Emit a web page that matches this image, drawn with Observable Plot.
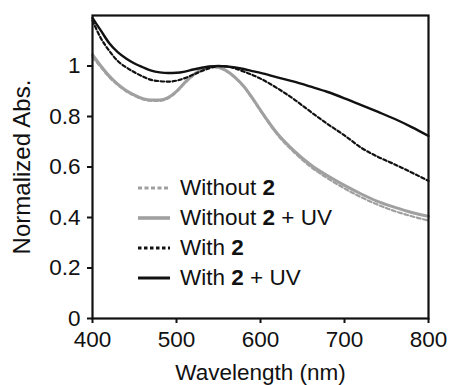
<!DOCTYPE html>
<html>
<head>
<meta charset="utf-8">
<script src="https://cdn.jsdelivr.net/npm/d3@7"></script>
<script src="https://cdn.jsdelivr.net/npm/@observablehq/plot@0.6"></script>
<style>
  html, body { margin: 0; padding: 0; background: #fff; }
  #wrap { position: relative; width: 449px; height: 385px; font-family: "Liberation Sans", Arial, sans-serif; }
  #legend { position: absolute; left: 0; top: 0; }
  .row { position: absolute; left: 138px; height: 30px; display: flex; align-items: center; font-size: 22.5px; color: #111; white-space: nowrap; }
  .row svg { margin-right: 10px; }
</style>
</head>
<body>
<div id="wrap"><div id="legend"></div></div>
<script>
// Wavelength grid (nm)
const wavelengths = [400, 410, 420, 430, 440, 450, 460, 470, 480, 490, 500, 510, 520, 530, 540, 550, 560, 570, 580, 590, 600, 620, 640, 660, 680, 700, 720, 740, 760, 780, 800];

// Normalized absorbance
const without2 =     [1.035, 0.995, 0.955, 0.925, 0.9, 0.882, 0.868, 0.862, 0.862, 0.872, 0.897, 0.932, 0.963, 0.985, 0.997, 0.993, 0.978, 0.952, 0.918, 0.872, 0.822, 0.728, 0.658, 0.6, 0.555, 0.515, 0.48, 0.45, 0.425, 0.405, 0.388];
const without2UV =   [1.045, 1.0, 0.96, 0.928, 0.903, 0.885, 0.871, 0.865, 0.865, 0.875, 0.9, 0.935, 0.965, 0.987, 0.998, 0.995, 0.98, 0.954, 0.92, 0.875, 0.825, 0.733, 0.664, 0.608, 0.565, 0.527, 0.493, 0.463, 0.44, 0.42, 0.405];
const with2 =        [1.18, 1.11, 1.06, 1.02, 0.995, 0.975, 0.958, 0.945, 0.94, 0.938, 0.942, 0.952, 0.966, 0.98, 0.992, 1.0, 0.998, 0.99, 0.978, 0.965, 0.95, 0.912, 0.868, 0.818, 0.77, 0.725, 0.676, 0.64, 0.61, 0.578, 0.545];
const with2UV =      [1.19, 1.14, 1.09, 1.055, 1.03, 1.01, 0.995, 0.982, 0.975, 0.972, 0.973, 0.978, 0.986, 0.993, 0.998, 1.0, 0.998, 0.994, 0.988, 0.98, 0.973, 0.955, 0.938, 0.918, 0.897, 0.872, 0.845, 0.818, 0.79, 0.758, 0.723];

const xTicks = [400, 500, 600, 700, 800];
const yTicks = [0, 0.2, 0.4, 0.6, 0.8, 1];
const yTickLabels = ["0", "0.2", "0.4", "0.6", "0.8", "1"];
const xLabel = "Wavelength (nm)";
const yLabel = "Normalized Abs.";

const seriesNames = ["Without 2", "Without 2 + UV", "With 2", "With 2 + UV"];
const seriesValues = [without2, without2UV, with2, with2UV];
const seriesStyles = [
  {stroke: "#a0a0a0", strokeWidth: 2.2, dash: "4,2.5"},
  {stroke: "#a0a0a0", strokeWidth: 3, dash: null},
  {stroke: "#111111", strokeWidth: 2.2, dash: "3.5,2.5"},
  {stroke: "#111111", strokeWidth: 2.4, dash: null}
];

const tables = seriesValues.map(vals => wavelengths.map((w, i) => ({w, v: vals[i]})));

const lineMarks = tables.map((t, k) => Plot.line(t, {
  x: "w", y: "v", curve: "monotone-x",
  stroke: seriesStyles[k].stroke,
  strokeWidth: seriesStyles[k].strokeWidth,
  strokeDasharray: seriesStyles[k].dash || undefined
}));

const chart = Plot.plot({
  width: 449,
  height: 385,
  marginLeft: 92,
  marginRight: 21,
  marginTop: 15,
  marginBottom: 67,
  style: {fontFamily: "'Liberation Sans', Arial, sans-serif", background: "#fff", color: "#111"},
  x: {domain: [400, 800]},
  y: {domain: [0, 1.2]},
  marks: [
    ...lineMarks,
    Plot.frame({stroke: "#111", strokeWidth: 2.2}),
    Plot.axisX({ticks: xTicks, tickSize: 5, tickPadding: 8, fontSize: 22.5, tickFormat: d => String(d),
      label: null, stroke: "#111", strokeWidth: 2}),
    Plot.axisY({ticks: yTicks, tickSize: 5, tickPadding: 7, fontSize: 22.5, tickFormat: d => yTickLabels[yTicks.indexOf(d)],
      label: null, stroke: "#111", strokeWidth: 2}),
    Plot.text([xLabel], {frameAnchor: "bottom", dy: 54, fontSize: 22.5, lineAnchor: "middle", fill: "#111"}),
    Plot.text([yLabel], {frameAnchor: "left", dx: -70, rotate: -90, fontSize: 24, textAnchor: "middle", lineAnchor: "middle", fill: "#111"})
  ]
});
document.getElementById("wrap").prepend(chart);

// Legend
const legend = document.getElementById("legend");
const rowTops = [173, 203, 233, 263];
seriesNames.forEach((name, k) => {
  const s = seriesStyles[k];
  const row = document.createElement("div");
  row.className = "row";
  row.style.top = rowTops[k] + "px";
  const parts = name.split("2");
  row.innerHTML = `<svg width="32" height="10"><line x1="0" x2="32" y1="5" y2="5" stroke="${s.stroke}" stroke-width="${s.strokeWidth + 0.6}" ${s.dash ? `stroke-dasharray="${s.dash}"` : ""}/></svg><span>${parts[0]}<b>2</b>${parts[1]}</span>`;
  legend.appendChild(row);
});
</script>
</body>
</html>
